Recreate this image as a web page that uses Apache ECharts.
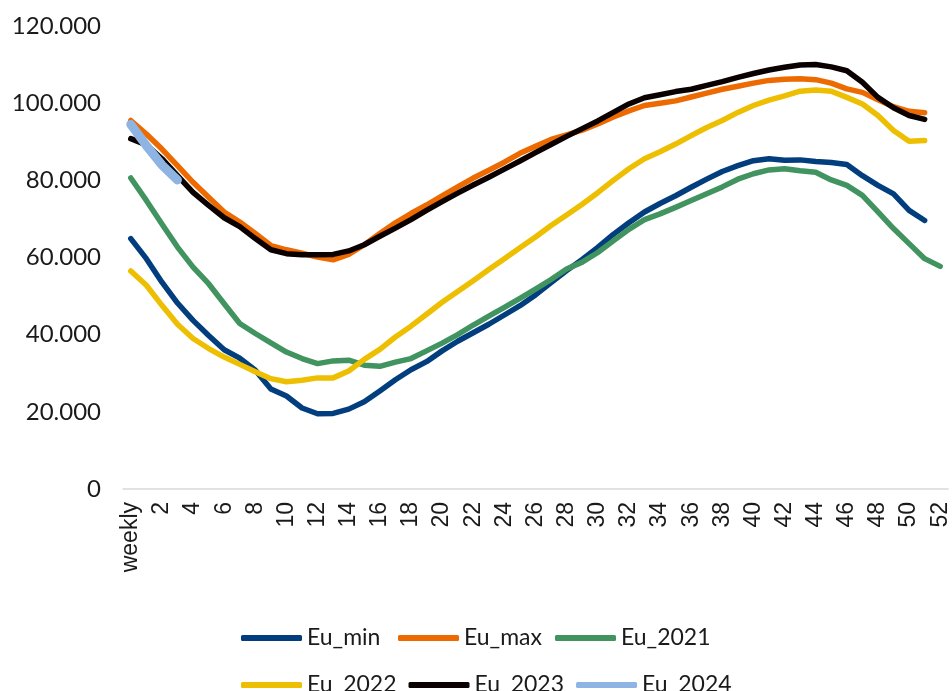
<!DOCTYPE html>
<html>
<head>
<meta charset="utf-8">
<script src="https://cdn.jsdelivr.net/npm/echarts@6/dist/echarts.min.js"></script>
<style>
  html, body { margin: 0; padding: 0; background: #fff; }
  #chart { width: 952px; height: 691px; }
</style>
</head>
<body>
<div id="chart"></div>
<script>
// week labels: header cell "weekly" then weeks 1..52
const weeks = ['weekly', '1', '2', '3', '4', '5', '6', '7', '8', '9', '10', '11', '12', '13', '14', '15', '16', '17', '18', '19', '20',
  '21', '22', '23', '24', '25', '26', '27', '28', '29', '30', '31', '32', '33', '34', '35', '36', '37', '38', '39', '40',
  '41', '42', '43', '44', '45', '46', '47', '48', '49', '50', '51', '52']

const euMin = [64900, 59700, 53600, 48200, 43700, 39800, 36100, 33900, 30800, 25900, 24100, 21000, 19500, 19600, 20700, 22600,
  25400, 28300, 30900, 33000, 35800, 38300, 40500, 42700, 45100, 47500, 50300, 53500, 56600, 59500, 62600, 66000, 69000,
  71800, 74000, 76000, 78200, 80300, 82300, 83800, 85100, 85600, 85200, 85300, 84900, 84600, 84100, 81200, 78700, 76500,
  72200, 69600]

const euMax = [95500, 92000, 88100, 83800, 79500, 75600, 71800, 69200, 66200, 63100, 62000, 61100, 60100, 59400, 60800, 63300,
  66200, 69000, 71400, 73600, 76000, 78300, 80600, 82600, 84700, 87000, 88800, 90600, 91800, 93000, 94600, 96400, 98000,
  99400, 100000, 100600, 101600, 102600, 103600, 104400, 105200, 105900, 106200, 106300, 106100, 105200, 103700, 102800,
  100900, 99100, 97900, 97500]

const eu2021 = [80600, 74800, 68700, 62700, 57500, 53200, 48000, 42900, 40300, 37900, 35500, 33800, 32500, 33200, 33400, 32100,
  31800, 32900, 33800, 35800, 37800, 40000, 42500, 44800, 47100, 49400, 51800, 54300, 57000, 58800, 61300, 64300, 67300,
  69800, 71300, 73000, 74800, 76500, 78300, 80300, 81700, 82700, 83000, 82500, 82100, 80100, 78700, 76100, 71800, 67500,
  63600, 59700, 57700]

const eu2022 = [56500, 52800, 47600, 42700, 39000, 36400, 34200, 32300, 30400, 28600, 27800, 28200, 28800, 28800, 30600, 33600,
  36200, 39400, 42200, 45300, 48400, 51200, 54000, 56900, 59700, 62500, 65300, 68300, 71000, 73800, 76800, 80000, 83000,
  85600, 87400, 89400, 91600, 93700, 95500, 97600, 99400, 100800, 101900, 103100, 103400, 103100, 101500, 99800, 96800,
  92900, 90100, 90300]

const eu2023 = [90800, 89200, 85600, 81200, 76900, 73500, 70300, 68000, 64900, 62000, 61000, 60700, 60700, 60800, 61700, 63300,
  65500, 67600, 69800, 72200, 74500, 76700, 78800, 80800, 82900, 85000, 87200, 89300, 91400, 93400, 95400, 97600, 99800,
  101400, 102200, 103000, 103600, 104600, 105600, 106700, 107700, 108600, 109300, 109900, 110000, 109400, 108400, 105400,
  101500, 98800, 96800, 95800]

const eu2024 = [94500, 89000, 84000, 80100]

const SERIES = [
  { name: 'Eu_min', data: euMin, color: '#023e7d', width: 5.5 },
  { name: 'Eu_max', data: euMax, color: '#ec6a00', width: 5.5 },
  { name: 'Eu_2021', data: eu2021, color: '#41935f', width: 5.5 },
  { name: 'Eu_2022', data: eu2022, color: '#eebf00', width: 5.5 },
  { name: 'Eu_2023', data: eu2023, color: '#0a0000', width: 5.5 },
  { name: 'Eu_2024', data: eu2024, color: '#8eb4e3', width: 9 }
]

// 120000 -> "120.000"
const fmtThousands = (v) => String(v).replace(/\B(?=(\d{3})+(?!\d))/g, '.')

const chart = echarts.init(document.getElementById('chart'))

const legendBase = {
  left: 236,
  orient: 'horizontal',
  icon: 'roundRect',
  itemWidth: 61,
  itemHeight: 6,
  itemGap: 12,
  selectedMode: false,
  textStyle: {
    fontFamily: 'Lato',
    fontSize: 23,
    color: '#1a1a1a',
    width: 79,
    lineHeight: 30
  }
}

const option = {
  backgroundColor: '#fff',
  animation: false,
  grid: {
    left: 123,
    right: 4,
    top: 26,
    bottom: 202,
    containLabel: false
  },
  legend: [
    Object.assign({}, legendBase, { top: 618, data: SERIES.slice(0, 3).map(s => s.name) }),
    Object.assign({}, legendBase, { top: 665, data: SERIES.slice(3).map(s => s.name) })
  ],
  xAxis: {
    type: 'category',
    data: weeks,
    boundaryGap: true,
    axisLine: { lineStyle: { color: '#d9d9d9', width: 1.5 } },
    axisTick: { show: false },
    axisLabel: {
      interval: 1,
      rotate: 90,
      margin: 13,
      fontFamily: 'Liberation Sans',
      fontSize: 23,
      color: '#1a1a1a'
    }
  },
  yAxis: {
    type: 'value',
    min: 0,
    max: 120000,
    interval: 20000,
    axisLine: { show: false },
    axisTick: { show: false },
    splitLine: { show: false },
    axisLabel: {
      margin: 22,
      fontFamily: 'Lato',
      fontSize: 24,
      color: '#1a1a1a',
      formatter: fmtThousands
    }
  },
  series: SERIES.map(s => ({
    name: s.name,
    type: 'line',
    data: s.data,
    symbol: 'none',
    smooth: false,
    itemStyle: { color: s.color },
    lineStyle: { color: s.color, width: s.width, cap: 'round', join: 'round' }
  }))
}

chart.setOption(option)
</script>
</body>
</html>
